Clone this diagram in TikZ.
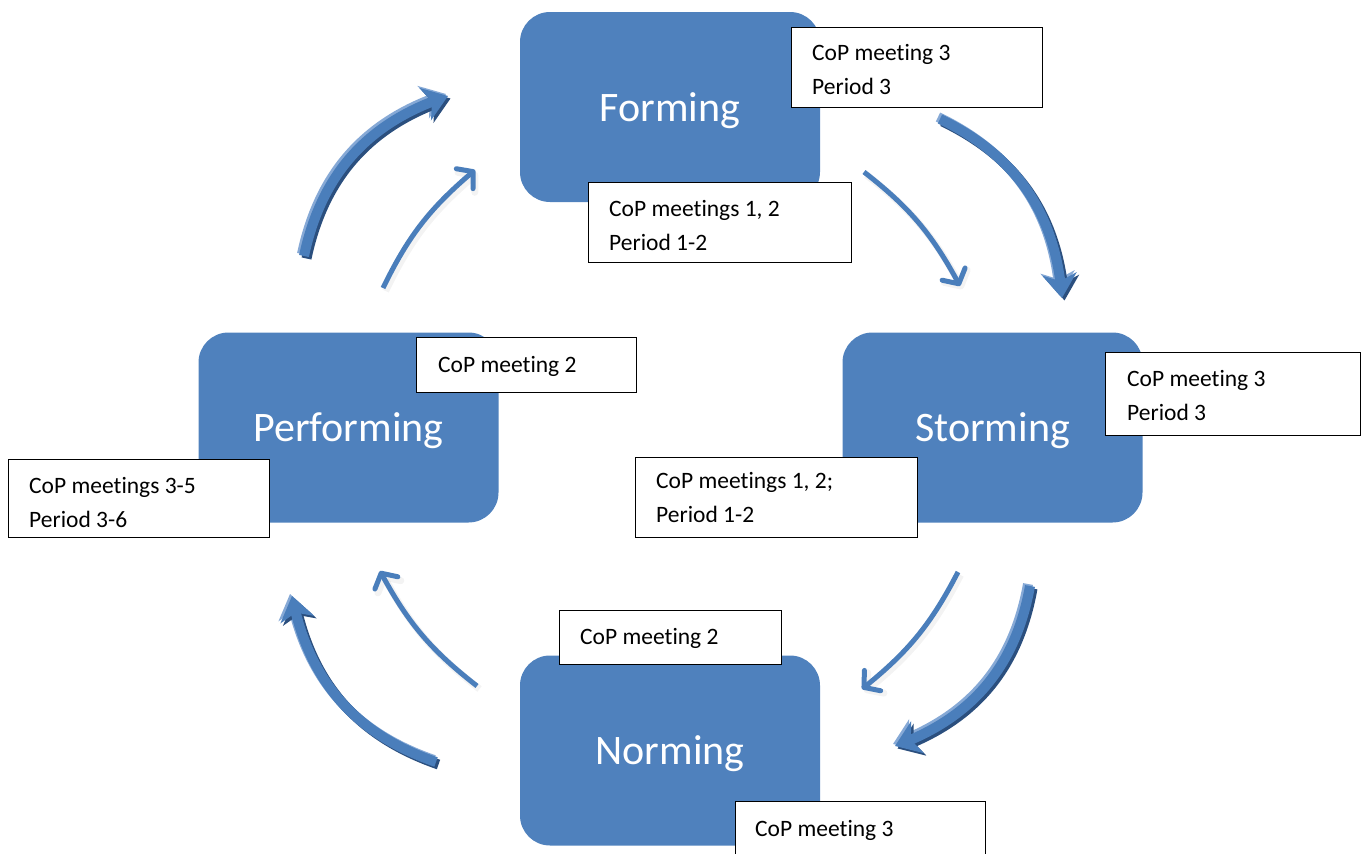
\documentclass[tikz,border=0pt]{standalone}
\usepackage{fontspec}
\setmainfont[Ligatures={NoCommon}]{Carlito}
\usetikzlibrary{arrows.meta,bending}
\definecolor{boxblue}{HTML}{4F81BD}
\definecolor{arrblue}{HTML}{4A7EBB}
\definecolor{arrdark}{HTML}{2B4F7E}
\definecolor{arrlight}{HTML}{86A9D6}
\begin{document}
\begin{tikzpicture}[x=1pt,y=-1pt,
  stage/.style={fill=boxblue, rounded corners=30pt, minimum width=300pt, minimum height=190pt,
    inner sep=0pt, text=white, font=\fontsize{42}{50}\selectfont, text height=34pt, text depth=6pt},
  lblbox/.style={draw=black, line width=1.3pt, fill=white, inner sep=0pt, anchor=north west},
  lbltxt/.style={anchor=base west, inner sep=0pt, font=\fontsize{23.5}{34}\selectfont},
  bigtip/.style={-{Stealth[length=24pt,width=34pt,inset=7pt]}},
  bigarrow/.style={bigtip, line width=10pt, arrblue},
  bigdark/.style={bigtip, line width=10pt, arrdark, transform canvas={xshift=2.5pt,yshift=-2.5pt}},
  biglight/.style={bigtip, line width=10pt, arrlight, transform canvas={xshift=-2pt,yshift=2pt}},
  smalltip/.style={-{Straight Barb[length=11pt,width=26pt,round]}},
  smallarrow/.style={smalltip, line width=5pt, arrblue},
  smallshadow/.style={smalltip, line width=7pt, black!40, opacity=0.12, transform canvas={xshift=2.5pt,yshift=-3pt}}
]
\useasboundingbox (0,0) rectangle (1361,854);
\clip (0,0) rectangle (1361,854);

% stage boxes
\node[stage] (form) at (670,107) {Forming};
\node[stage] (storm) at (992.5,427.5) {Storming};
\node[stage] (perf) at (348.5,427.5) {Performing};
\node[stage] (norm) at (670,750.5) {Norming};

% arrow end points
\coordinate (a1s) at (304,256); \coordinate (a1e) at (448,96);
\coordinate (a2s) at (940,119); \coordinate (a2e) at (1062,298);
\coordinate (a3s) at (1030,586); \coordinate (a3e) at (895,746);
\coordinate (a4s) at (436,762); \coordinate (a4e) at (292,596);
\coordinate (i1s) at (383,288); \coordinate (i1e) at (475,170);
\coordinate (i2s) at (864,172); \coordinate (i2e) at (960,286);
\coordinate (i3s) at (958,572); \coordinate (i3e) at (862,689);
\coordinate (i4s) at (477,686); \coordinate (i4e) at (380,571);

% outer 3D arrows
\foreach \s/\e in {a1s/a1e, a2s/a2e, a3s/a3e, a4s/a4e}{
  \draw[biglight] (\s) to[bend left=30] (\e);
  \draw[bigdark] (\s) to[bend left=30] (\e);
  \draw[bigarrow] (\s) to[bend left=30] (\e);
}
% inner arrows
\foreach \s/\e in {i1s/i1e, i2s/i2e, i3s/i3e, i4s/i4e}{
  \draw[smallshadow] (\s) to[bend left=12] (\e);
  \draw[smallarrow] (\s) to[bend left=12] (\e);
}

% label boxes
\node[lblbox, minimum width=251pt, minimum height=80pt] (b1) at (791,27) {};
\node[lbltxt] (t1a) at (812,60) {CoP meeting 3};
\node[lbltxt] (t1b) at (812,94) {Period 3};

\node[lblbox, minimum width=263pt, minimum height=80pt] (b2) at (588,182) {};
\node[lbltxt] (t2a) at (609,216) {CoP meetings 1, 2};
\node[lbltxt] (t2b) at (609,250) {Period 1-2};

\node[lblbox, minimum width=255pt, minimum height=83pt] (b3) at (1105,352) {};
\node[lbltxt] (t3a) at (1127,386) {CoP meeting 3};
\node[lbltxt] (t3b) at (1127,420) {Period 3};

\node[lblbox, minimum width=282pt, minimum height=80pt] (b4) at (635,457) {};
\node[lbltxt] (t4a) at (656,488) {CoP meetings 1, 2;};
\node[lbltxt] (t4b) at (656,522) {Period 1-2};

\node[lblbox, minimum width=220pt, minimum height=55pt] (b5) at (416,337) {};
\node[lbltxt] (t5a) at (438,372) {CoP meeting 2};

\node[lblbox, minimum width=261pt, minimum height=78pt] (b6) at (8,459) {};
\node[lbltxt] (t6a) at (29,493) {CoP meetings 3-5};
\node[lbltxt] (t6b) at (29,527) {Period 3-6};

\node[lblbox, minimum width=222pt, minimum height=54pt] (b7) at (559,610) {};
\node[lbltxt] (t7a) at (580,644) {CoP meeting 2};

\node[lblbox, minimum width=250pt, minimum height=80pt] (b8) at (735,801) {};
\node[lbltxt] (t8a) at (755,836) {CoP meeting 3};
\end{tikzpicture}
\end{document}
